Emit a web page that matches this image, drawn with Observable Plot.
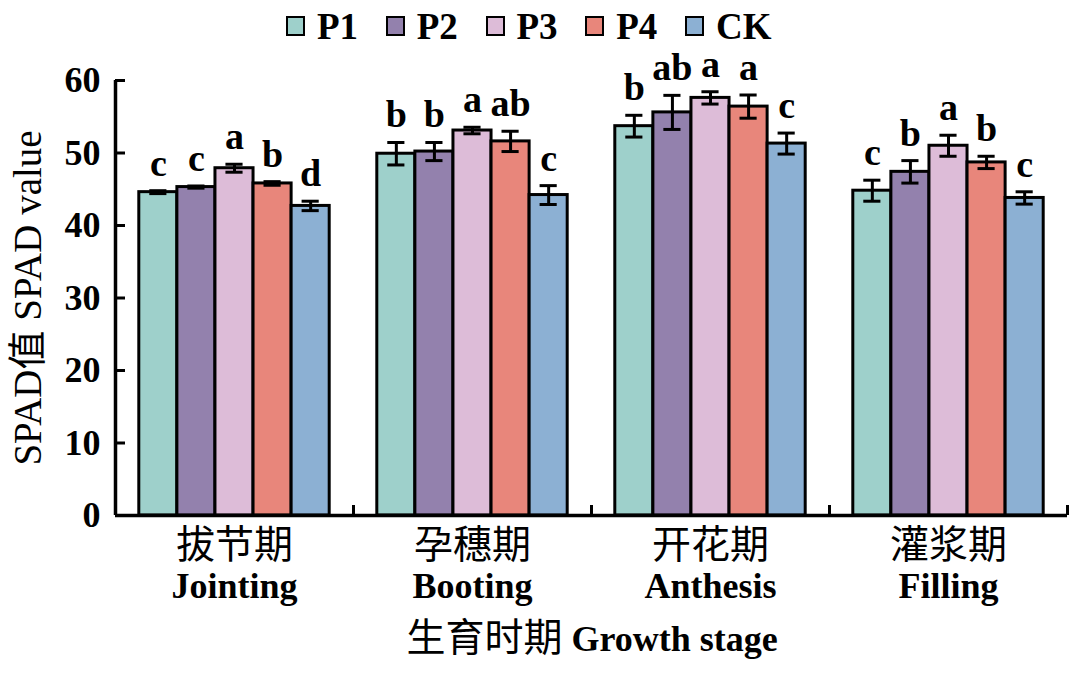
<!DOCTYPE html>
<html><head><meta charset="utf-8">
<script src="https://cdn.jsdelivr.net/npm/d3@7"></script>
<script src="https://cdn.jsdelivr.net/npm/@observablehq/plot@0.6"></script>
<style>
body{margin:0;background:#fff;font-family:"Liberation Serif","Noto Sans CJK SC",serif;}
#legend{height:50px;position:relative;width:1076px;}
.item{position:absolute;top:1px;height:50px;display:flex;align-items:center;}
.sw{width:15px;height:16px;border:2.5px solid #000;box-sizing:content-box;}
.lb{font-weight:bold;font-size:37px;margin-left:12px;line-height:1;}
</style></head><body>
<div id="legend"></div><div id="chart"></div>
<script>
// ---- data ----
const stagesZh = ["拔节期", "孕穗期", "开花期", "灌浆期"];
const stagesEn = ["Jointing", "Booting", "Anthesis", "Filling"];
const treatments = ["P1", "P2", "P3", "P4", "CK"];
const colors = ["#9ed0cb", "#9381ad", "#ddbcd8", "#e8867b", "#8cb0d3"];

const P1 = [44.6, 49.9, 53.7, 44.8];
const P2 = [45.3, 50.2, 55.6, 47.4];
const P3 = [47.9, 53.1, 57.6, 51.0];
const P4 = [45.8, 51.6, 56.4, 48.7];
const CK = [42.7, 44.2, 51.3, 43.8];

const P1se = [0.2, 1.55, 1.5, 1.45];
const P2se = [0.15, 1.25, 2.35, 1.55];
const P3se = [0.55, 0.45, 0.85, 1.45];
const P4se = [0.25, 1.4, 1.6, 0.85];
const CKse = [0.65, 1.3, 1.45, 0.85];

const P1sig = ["c", "b", "b", "c"];
const P2sig = ["c", "b", "ab", "b"];
const P3sig = ["a", "a", "a", "a"];
const P4sig = ["b", "ab", "a", "b"];
const CKsig = ["d", "c", "c", "c"];

const yTicks = [0, 10, 20, 30, 40, 50, 60];
const yLabel = "SPAD值 SPAD value";
const xLabelZh = "生育时期";
const xLabelEn = "Growth stage";

// ---- table ----
const means = [P1, P2, P3, P4, CK];
const ses = [P1se, P2se, P3se, P4se, CKse];
const sigs = [P1sig, P2sig, P3sig, P4sig, CKsig];
const groupW = 0.8, barW = groupW / treatments.length;
const rows = [];
treatments.forEach((t, j) => stagesEn.forEach((s, i) => {
  const x1 = i - groupW / 2 + j * barW;
  rows.push({t, s, x1, x2: x1 + barW, xc: x1 + barW / 2,
    mean: means[j][i], lo: means[j][i] - ses[j][i], hi: means[j][i] + ses[j][i], sig: sigs[j][i]});
}));
const stageIdx = stagesEn.map((d, i) => i);
const bounds = stagesEn.map((d, i) => i + 0.5);
const capHalf = 0.036;

// ---- legend ----
const leg = document.getElementById("legend");
treatments.forEach((t, j) => {
  const it = document.createElement("div");
  it.className = "item";
  it.style.left = (286 + j * 99.75) + "px";
  it.innerHTML = `<div class="sw" style="background:${colors[j]}"></div><div class="lb">${t}</div>`;
  leg.appendChild(it);
});

// ---- chart ----
const chart = Plot.plot({
  width: 1076,
  height: 623,
  marginTop: 30,
  marginBottom: 158,
  marginLeft: 115,
  marginRight: 9,
  style: {fontFamily: '"Liberation Serif","Noto Sans CJK SC",serif', fontSize: "36px", color: "#000", background: "#fff", overflow: "visible"},
  x: {domain: [-0.5, stagesEn.length - 0.5]},
  y: {domain: [0, 60]},
  color: {domain: treatments, range: colors},
  marks: [
    Plot.rectY(rows, {x1: "x1", x2: "x2", y1: 0, y2: "mean", fill: "t", stroke: "#000", strokeWidth: 3}),
    Plot.ruleX(rows, {x: "xc", y1: "lo", y2: "hi", stroke: "#000", strokeWidth: 3}),
    Plot.ruleY(rows, {y: "hi", x1: d => d.xc - capHalf, x2: d => d.xc + capHalf, stroke: "#000", strokeWidth: 3}),
    Plot.ruleY(rows, {y: "lo", x1: d => d.xc - capHalf, x2: d => d.xc + capHalf, stroke: "#000", strokeWidth: 3}),
    Plot.text(rows, {x: "xc", y: "hi", text: "sig", dy: -15, lineAnchor: "bottom", fontSize: 38, fontWeight: "bold"}),
    Plot.ruleX(bounds, {x: d => d, y1: 0, y2: 0, insetTop: -10, stroke: "#000", strokeWidth: 3}),
    Plot.ruleY([0], {stroke: "#000", strokeWidth: 3.5}),
    Plot.ruleX([-0.5], {stroke: "#000", strokeWidth: 3.5}),
    Plot.axisY({ticks: yTicks, tickSize: -10, tickPadding: 25, fontSize: 36, fontWeight: "bold", strokeWidth: 3, label: null}),
    Plot.axisX({ticks: stageIdx, tickFormat: i => stagesZh[i], tickSize: 0, tickPadding: 15, fontSize: 39, label: null}),
    Plot.axisX({ticks: stageIdx, tickFormat: i => stagesEn[i], tickSize: 0, tickPadding: 57, fontSize: 36, fontWeight: "bold", label: null}),
    Plot.text([xLabelZh], {frameAnchor: "bottom", text: d => d, dy: 135, dx: -29, textAnchor: "end", lineAnchor: "bottom", fontSize: 39}),
    Plot.text([xLabelEn], {frameAnchor: "bottom", text: d => d, dy: 135, dx: -20, textAnchor: "start", lineAnchor: "bottom", fontSize: 36, fontWeight: "bold"}),
    Plot.text([yLabel], {frameAnchor: "left", text: d => d, rotate: -90, dx: -87, textAnchor: "middle", lineAnchor: "middle", fontSize: 39})
  ]
});
document.getElementById("chart").appendChild(chart);
</script>
</body></html>
